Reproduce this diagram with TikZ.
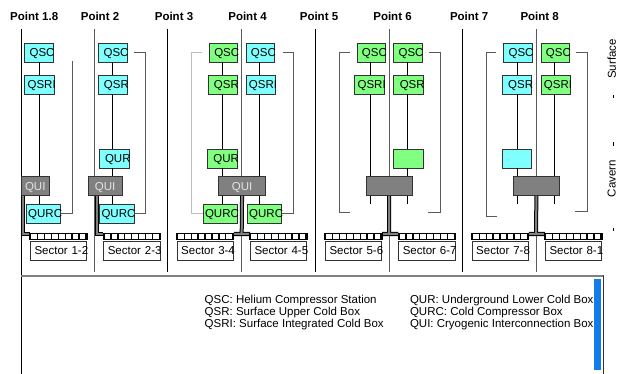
\documentclass[tikz,border=0pt]{standalone}
\usepackage{fontspec}
\setmainfont{Liberation Sans}
\definecolor{cryoCyan}{RGB}{128,255,255}
\definecolor{cryoGreen}{RGB}{128,255,128}
\definecolor{cryoGrey}{RGB}{128,128,128}
\definecolor{cryoPale}{RGB}{228,228,228}
\definecolor{cryoEdge}{RGB}{51,51,51}
\definecolor{cryoWire}{RGB}{90,90,90}
\definecolor{cryoFaint}{RGB}{190,190,190}
\definecolor{cryoBlue}{RGB}{18,125,232}
\tikzset{
  lbl/.style={font=\fontsize{11.5}{13}\selectfont},
  ptlbl/.style={font=\fontsize{11.5}{13}\selectfont\bfseries, anchor=base},
  unit/.style={lbl, draw=cryoEdge, line width=0.8pt, inner xsep=-1.5pt, inner ysep=0pt,
    minimum height=19pt, text height=8.3pt, text depth=0pt, align=right, anchor=west},
  qsc/.style={unit, text width=31.3pt},
  qsr/.style={unit, text width=32.5pt},
  qur/.style={unit, text width=32.7pt},
  qurc/.style={unit, text width=37.5pt},
  sector/.style={unit, fill=white, text width=59.3pt},
  qui/.style={lbl, draw=cryoEdge, fill=cryoGrey, text=cryoPale, line width=0.8pt, inner sep=0pt,
    minimum height=18.3pt, minimum width=#1, text height=8.3pt, text depth=0pt, anchor=west},
  pipe/.style={line width=0.9pt},
  bnd/.style={line width=1pt},
  brk/.style={draw=cryoWire, line width=0.8pt},
  feed/.style={draw=black, line width=1pt, double=cryoGrey, double distance=2pt},
  rail/.style={line width=1.2pt},
  teeth/.style={line width=5pt, dash pattern=on 1.4pt off 5.5pt},
}
\begin{document}
\begin{tikzpicture}[x=1pt,y=-1pt]
\useasboundingbox (0,0) rectangle (621,374);
\draw[bnd] (21,29) -- (21,374);
\draw[bnd, draw=cryoWire] (94,29) -- (94,272);
\draw[bnd] (167.7,29) -- (167.7,272);
\draw[bnd, draw=cryoWire] (241.7,29) -- (241.7,272);
\draw[bnd] (315,29) -- (315,272);
\draw[bnd, draw=cryoWire] (389,29) -- (389,272);
\draw[bnd] (462.7,29) -- (462.7,272);
\draw[bnd, draw=cryoWire] (536,29) -- (536,272);
\node[ptlbl] (p18) at (34.2,20.7) {Point 1.8};
\node[ptlbl] (p2) at (100,20.7) {Point 2};
\node[ptlbl] (p3) at (174,20.7) {Point 3};
\node[ptlbl] (p4) at (247.5,20.7) {Point 4};
\node[ptlbl] (p5) at (319,20.7) {Point 5};
\node[ptlbl] (p6) at (392.5,20.7) {Point 6};
\node[ptlbl] (p7) at (469.2,20.7) {Point 7};
\node[ptlbl] (p8) at (539.7,20.7) {Point 8};
\coordinate (c1) at (39,0);
\coordinate (c2) at (112,0);
\coordinate (c3) at (222.3,0);
\coordinate (c4) at (259.3,0);
\coordinate (c5) at (370.7,0);
\coordinate (c6) at (407.3,0);
\coordinate (c7) at (517.7,0);
\coordinate (c8) at (554.3,0);
\node[qsc, fill=cryoCyan] (qsc1) at (24.3,52.5) {QSC};
\node[qsr, fill=cryoCyan] (qsri1) at (24.3,84.5) {QSRI};
\node[qui=28.3pt] (qui1) at (20.7,186) {QUI};
\node[qurc, fill=cryoCyan] (qurc1) at (25.7,213.5) {QURC};
\node[qsc, fill=cryoCyan] (qsc2) at (98.3,52.5) {QSC};
\node[qsr, fill=cryoCyan] (qsr2) at (97.5,84.5) {QSR};
\node[qur, fill=cryoCyan] (qur2) at (99,158.5) {QUR};
\node[qui=34pt] (qui2) at (87.7,186) {QUI};
\node[qurc, fill=cryoCyan] (qurc2) at (99,213.5) {QURC};
\node[qsc, fill=cryoGreen] (qsc3) at (209,52.5) {QSC};
\node[qsr, fill=cryoGreen] (qsr3) at (207.5,84.5) {QSR};
\node[qur, fill=cryoGreen] (qur3) at (207.3,158.5) {QUR};
\node[qurc, fill=cryoGreen] (qurc3) at (202.5,213.5) {QURC};
\node[qsc, fill=cryoCyan] (qsc4) at (245.7,52.5) {QSC};
\node[qsr, fill=cryoCyan] (qsri4) at (245.7,84.5) {QSRI};
\node[qurc, fill=cryoGreen] (qurc4) at (246.7,213.5) {QURC};
\node[qui=46.7pt] (qui34) at (218.3,186) {QUI};
\node[qsc, fill=cryoGreen] (qsc5) at (356.7,52.5) {QSC};
\node[qsr, fill=cryoGreen] (qsri5) at (354.3,84.5) {QSRI};
\node[qsc, fill=cryoGreen] (qsc6) at (393.3,52.5) {QSC};
\node[qsr, fill=cryoGreen] (qsr6) at (393.3,84.5) {QSR};
\node[qur, fill=cryoGreen] (qur6) at (393.3,158.5) {};
\node[qui=46pt] (qui56) at (365.7,186) {};
\node[qsc, fill=cryoCyan] (qsc7) at (503.3,52.5) {QSC};
\node[qsr, fill=cryoCyan] (qsr7) at (501.7,84.5) {QSR};
\node[qur, fill=cryoCyan] (qur7) at (501.7,158.5) {};
\node[qsc, fill=cryoGreen] (qsc8) at (540.7,52.5) {QSC};
\node[qsr, fill=cryoGreen] (qsri8) at (540.7,84.5) {QSRI};
\node[qui=46.6pt] (qui78) at (512.7,186) {};
\draw[pipe] (qsc1.south -| c1) -- (qsri1.north -| c1) (qsri1.south -| c1) -- (qui1.north -| c1)
  (qui1.south -| c1) -- (qurc1.north -| c1);
\draw[pipe] (qsc2.south -| c2) -- (qsr2.north -| c2) (qsr2.south -| c2) -- (qur2.north -| c2)
  (qur2.south -| c2) -- (qui2.north -| c2) (qui2.south -| c2) -- (qurc2.north -| c2);
\draw[pipe] (qsc3.south -| c3) -- (qsr3.north -| c3) (qsr3.south -| c3) -- (qur3.north -| c3)
  (qur3.south -| c3) -- (qui34.north -| c3) (qui34.south -| c3) -- (qurc3.north -| c3);
\draw[pipe] (qsc4.south -| c4) -- (qsri4.north -| c4) (qsri4.south -| c4) -- (qui34.north -| c4)
  (qui34.south -| c4) -- (qurc4.north -| c4);
\coordinate (end5) at (370.7,204);
\coordinate (end6) at (407.3,204);
\coordinate (end7) at (517.7,204);
\coordinate (end8) at (554.3,204);
\draw[pipe] (qsc5.south -| c5) -- (qsri5.north -| c5) (qsri5.south -| c5) -- (qui56.north -| c5)
  (qui56.south -| c5) -- (end5);
\draw[pipe] (qsc6.south -| c6) -- (qsr6.north -| c6) (qsr6.south -| c6) -- (qur6.north -| c6)
  (qur6.south -| c6) -- (qui56.north -| c6) (qui56.south -| c6) -- (end6);
\draw[pipe] (qsc7.south -| c7) -- (qsr7.north -| c7) (qsr7.south -| c7) -- (qur7.north -| c7)
  (qur7.south -| c7) -- (qui78.north -| c7) (qui78.south -| c7) -- (end7);
\draw[pipe] (qsc8.south -| c8) -- (qsri8.north -| c8) (qsri8.south -| c8) -- (qui78.north -| c8)
  (qui78.south -| c8) -- (end8);
\coordinate (tip5) at (350,212.7);
\coordinate (tip6) at (428.3,212.7);
\coordinate (tip7) at (496.7,216);
\coordinate (tip8) at (575,211.7);
\draw[brk] ([xshift=19.3pt,yshift=-8.5pt]qsc1.east) |- (qurc1.east);
\draw[brk] ([xshift=7pt]qsc2.east) -- ++(11,0) |- (qurc2.east);
\draw[brk, draw=cryoFaint] ([xshift=-7pt]qsc3.west) -- ++(-11,0) |- (qurc3.west);
\draw[brk] ([xshift=7.7pt]qsc4.east) -- ++(10.6,0) |- (qurc4.east);
\draw[brk] ([xshift=-6.7pt]qsc5.west) -- ++(-10.7,0) |- (tip5);
\draw[brk] ([xshift=6.7pt]qsc6.east) -- ++(11,0) |- (tip6);
\draw[brk] ([xshift=-7.3pt]qsc7.west) -- ++(-10,0) |- (tip7);
\draw[brk] ([xshift=6pt]qsc8.east) -- ++(11.7,0) |- (tip8);
\node[sector] (s12) at (30,250.5) {Sector 1-2};
\node[sector] (s23) at (103.3,250.5) {Sector 2-3};
\node[sector] (s34) at (176.7,250.5) {Sector 3-4};
\node[sector] (s45) at (250,250.5) {Sector 4-5};
\node[sector] (s56) at (325,250.5) {Sector 5-6};
\node[sector] (s67) at (398.3,250.5) {Sector 6-7};
\node[sector] (s78) at (471.7,250.5) {Sector 7-8};
\node[sector] (s81) at (545,250.5) {Sector 8-1};
\coordinate (j34) at (241.7,234);
\coordinate (j56) at (389,234);
\coordinate (j78) at (536,234);
\draw[feed] ([xshift=2.5pt]qui1.south west) |- ([yshift=7pt]s12.north west);
\draw[feed] ([xshift=9.3pt]qui2.south west) |- ([yshift=7pt]s23.north west);
\draw[feed] (qui34.south) -- (j34) (s34.north east |- j34) -- (s45.north west |- j34);
\draw[feed] (qui56.south) -- (j56) (s56.north east |- j56) -- (s67.north west |- j56);
\draw[feed] (qui78.south) -- (j78) (s78.north east |- j78) -- (s81.north west |- j78);
\draw[rail] ([yshift=1pt]s12.north west) rectangle ([yshift=7pt]s12.north east);
\draw[teeth] ([yshift=4pt]s12.north west) -- ([yshift=4pt]s12.north east);
\draw[rail] ([yshift=1pt]s23.north west) rectangle ([yshift=7pt]s23.north east);
\draw[teeth] ([yshift=4pt]s23.north west) -- ([yshift=4pt]s23.north east);
\draw[rail] ([yshift=1pt]s34.north west) rectangle ([yshift=7pt]s34.north east);
\draw[teeth] ([yshift=4pt]s34.north west) -- ([yshift=4pt]s34.north east);
\draw[rail] ([yshift=1pt]s45.north west) rectangle ([yshift=7pt]s45.north east);
\draw[teeth] ([yshift=4pt]s45.north west) -- ([yshift=4pt]s45.north east);
\draw[rail] ([yshift=1pt]s56.north west) rectangle ([yshift=7pt]s56.north east);
\draw[teeth] ([yshift=4pt]s56.north west) -- ([yshift=4pt]s56.north east);
\draw[rail] ([yshift=1pt]s67.north west) rectangle ([yshift=7pt]s67.north east);
\draw[teeth] ([yshift=4pt]s67.north west) -- ([yshift=4pt]s67.north east);
\draw[rail] ([yshift=1pt]s78.north west) rectangle ([yshift=7pt]s78.north east);
\draw[teeth] ([yshift=4pt]s78.north west) -- ([yshift=4pt]s78.north east);
\draw[rail] ([yshift=1pt]s81.north west) rectangle ([yshift=7pt]s81.north east);
\draw[teeth] ([yshift=4pt]s81.north west) -- ([yshift=4pt]s81.north east);
\node[lbl, rotate=90] (surf) at (611.7,59) {Surface};
\node[lbl, rotate=90] (cav) at (611.7,178.5) {Cavern};
\draw[line width=1.2pt] (613.5,95) -- (613.5,98.5);
\draw[line width=1.2pt] (613.5,142.5) -- (613.5,146);
\draw[line width=1.2pt] (613.5,228) -- (613.5,231.5);
\draw[cryoGrey, line width=2pt] (21,275.5) -- (603,275.5);
\draw[cryoEdge, line width=1pt] (603,275) -- (603,374);
\fill[cryoBlue] (594.3,279.3) rectangle (600.7,370);
\node[lbl, anchor=base west] (k1) at (201.2,303.3) {QSC: Helium Compressor Station};
\node[lbl, anchor=base west] (k2) at (201.2,315.5) {QSR: Surface Upper Cold Box};
\node[lbl, anchor=base west] (k3) at (201.2,327.7) {QSRI: Surface Integrated Cold Box};
\node[lbl, anchor=base west] (k4) at (406.5,303.3) {QUR: Underground Lower Cold Box};
\node[lbl, anchor=base west] (k5) at (406.5,315.5) {QURC: Cold Compressor Box};
\node[lbl, anchor=base west] (k6) at (406.5,327.7) {QUI: Cryogenic Interconnection Box};
\end{tikzpicture}
\end{document}
